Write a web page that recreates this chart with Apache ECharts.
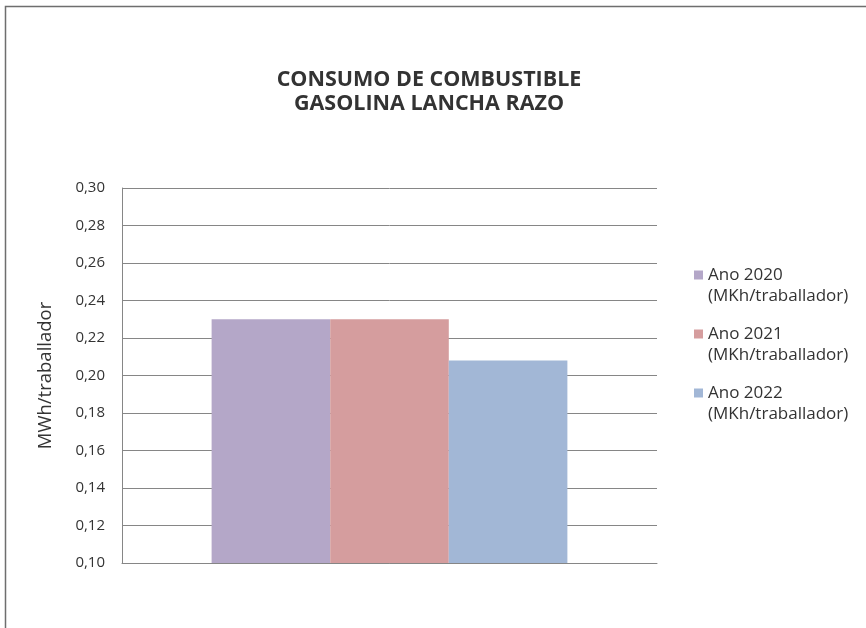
<!DOCTYPE html>
<html>
<head>
<meta charset="utf-8">
<script src="https://cdn.jsdelivr.net/npm/echarts@6/dist/echarts.min.js"></script>
<style>
html,body{margin:0;padding:0;background:#fff;}
#chart{width:866px;height:628px;}
</style>
</head>
<body>
<div id="chart"></div>
<script>
const categories = ['Gasolina lancha Razo'];
const seriesNames = ['Ano 2020\n(MKh/traballador)', 'Ano 2021\n(MKh/traballador)', 'Ano 2022\n(MKh/traballador)'];
const values2020 = [0.23];
const values2021 = [0.23];
const values2022 = [0.208];
const seriesValues = [values2020, values2021, values2022];
const colors = ['#B4A7C8', '#D59D9E', '#A2B7D6'];
const yMin = 0.10, yMax = 0.30, yStep = 0.02;

const FONT = '"Open Sans"';
const chart = echarts.init(document.getElementById('chart'), null, {renderer: 'canvas'});

const LH = 21;
const legendCenters = [275, 334, 393];
const legends = seriesNames.map((n, i) => ({
  data: [n],
  orient: 'vertical',
  left: 694,
  top: legendCenters[i] - 1.5 * LH,
  padding: 0,
  icon: 'rect',
  itemWidth: 9,
  itemHeight: 9,
  selectedMode: false,
  formatter: name => ' \n' + name,
  textStyle: {fontFamily: FONT, fontSize: 17, color: '#333', lineHeight: LH}
}));

chart.setOption({
  animation: false,
  color: colors,
  title: {
    text: 'CONSUMO DE COMBUSTIBLE\nGASOLINA LANCHA RAZO',
    left: 424,
    textAlign: 'center',
    top: 63,
    textStyle: {fontFamily: FONT, fontSize: 21.5, fontWeight: 'bold', color: '#333', lineHeight: 24}
  },
  graphic: [{
    type: 'rect',
    shape: {x: 5.5, y: 6.5, width: 1000, height: 1000},
    style: {fill: 'none', stroke: '#6e6e6e', lineWidth: 1.5},
    silent: true
  }],
  legend: legends,
  grid: {left: 122, right: 209, top: 188, bottom: 65},
  xAxis: {
    type: 'category',
    data: categories,
    axisLine: {lineStyle: {color: '#868686', width: 1}},
    axisTick: {show: false},
    axisLabel: {show: false}
  },
  yAxis: {
    type: 'value',
    min: yMin, max: yMax, interval: yStep,
    name: 'MWh/traballador',
    nameLocation: 'middle',
    nameGap: 67,
    nameTextStyle: {fontFamily: FONT, fontSize: 18.5, color: '#333'},
    axisLine: {show: true, lineStyle: {color: '#868686', width: 1}},
    axisTick: {show: false},
    splitLine: {lineStyle: {color: '#868686', width: 1}},
    axisLabel: {
      fontFamily: FONT, fontSize: 15, color: '#333', margin: 17,
      formatter: v => v.toFixed(2).replace('.', ',')
    }
  },
  series: seriesNames.map((n, i) => ({
    name: n,
    type: 'bar',
    data: seriesValues[i],
    barGap: '0%',
    barCategoryGap: '33.5%',
    itemStyle: {color: colors[i]}
  }))
});
</script>
</body>
</html>
